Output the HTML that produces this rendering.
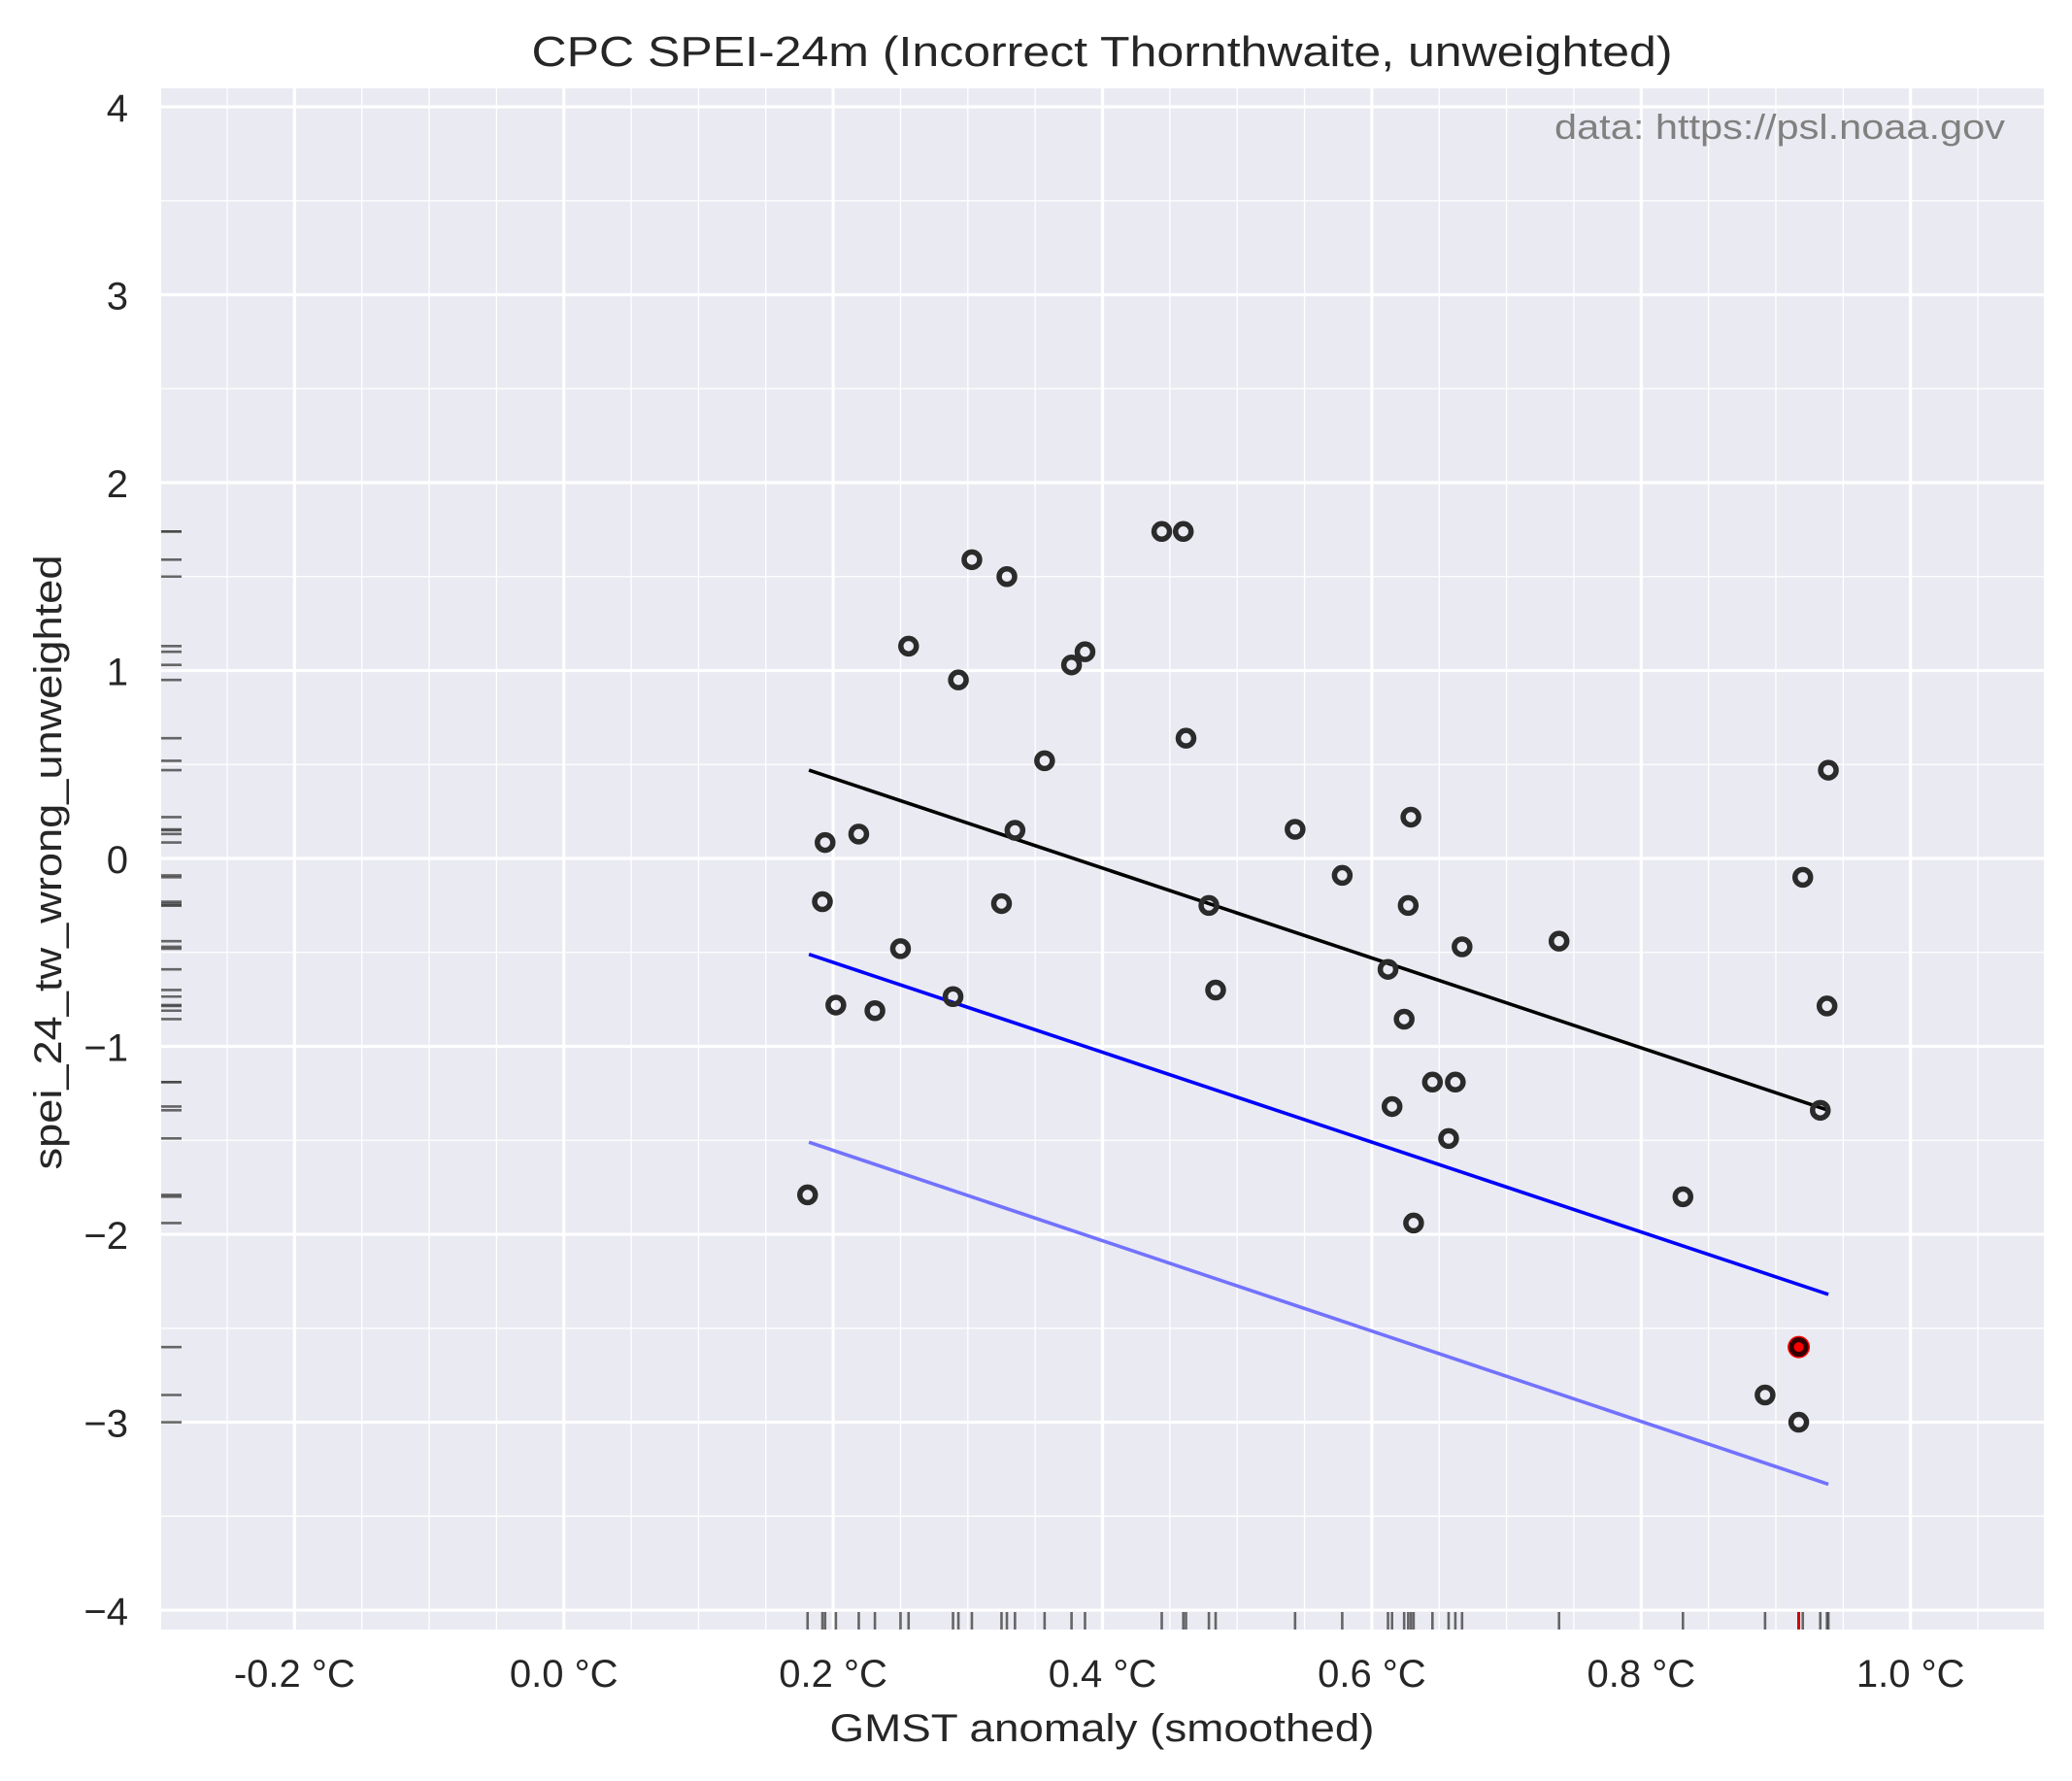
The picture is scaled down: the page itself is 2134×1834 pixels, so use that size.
<!DOCTYPE html>
<html><head><meta charset="utf-8"><style>
html,body{margin:0;padding:0;background:#fff;}
svg{display:block;font-family:"Liberation Sans",Arial,sans-serif;}
</style></head><body>
<svg id="chart" width="2134" height="1834" viewBox="0 0 2134 1834">
<rect x="0" y="0" width="2134" height="1834" fill="#fff"/>
<rect x="166" y="91" width="1939" height="1587" fill="#eaeaf2"/>
<g id="grid"></g>
<g id="rugs"></g>
<g id="lines"></g>
<g id="points"></g>
<g id="ticks"></g>
<text x="1135" y="68" font-size="44" text-anchor="middle" textLength="1175" lengthAdjust="spacingAndGlyphs" fill="#262626">CPC SPEI-24m (Incorrect Thornthwaite, unweighted)</text>
<text x="1135" y="1793" font-size="40" text-anchor="middle" textLength="561" lengthAdjust="spacingAndGlyphs" fill="#262626">GMST anomaly (smoothed)</text>
<text x="0" y="0" font-size="40" text-anchor="middle" textLength="633" lengthAdjust="spacingAndGlyphs" fill="#262626" transform="translate(63,888) rotate(-90)">spei_24_tw_wrong_unweighted</text>
<text x="2065" y="143" font-size="36" text-anchor="end" textLength="464" lengthAdjust="spacingAndGlyphs" fill="#808080">data: https://psl.noaa.gov</text>
</svg>
<script>
const xs = [0.181,0.194,0.192,0.202,0.219,0.231,0.250,0.256,0.289,0.293,0.303,0.325,0.329,0.335,0.357,0.377,0.387,0.444,0.460,0.462,0.479,0.484,0.543,0.578,0.612,0.615,0.624,0.627,0.629,0.631,0.645,0.657,0.662,0.667,0.739,0.831,0.892,0.917,0.920,0.933,0.938,0.939];
const ys = [-1.79,0.085,-0.23,-0.78,0.13,-0.81,-0.48,1.13,-0.735,0.95,1.59,-0.24,1.50,0.15,0.52,1.03,1.10,1.74,1.74,0.64,-0.25,-0.70,0.155,-0.09,-0.59,-1.32,-0.855,-0.25,0.22,-1.94,-1.19,-1.49,-1.19,-0.47,-0.44,-1.80,-2.855,-3.00,-0.10,-1.34,-0.785,0.47];
const highlightX = [0.917];
const highlightY = [-2.60];
const fitX = [0.182,0.939];
const fitCentral = [0.47,-1.34];
const fitShift1 = [-0.51,-2.32];
const fitShift2 = [-1.51,-3.33];
const xTicks = [-0.2,0.0,0.2,0.4,0.6,0.8,1.0];
const xTickLabels = ["-0.2 °C","0.0 °C","0.2 °C","0.4 °C","0.6 °C","0.8 °C","1.0 °C"];
const yTicks = [-4,-3,-2,-1,0,1,2,3,4];
const yTickLabels = ["\u22124","\u22123","\u22122","\u22121","0","1","2","3","4"];

const NS="http://www.w3.org/2000/svg";
const L=166,R=2105,T=91,B=1678;
const xmin=-0.299,xmax=1.099,ymin=-4.103,ymax=4.098;
function sx(v){return L+(v-xmin)/(xmax-xmin)*(R-L);}
function sy(v){return B-(v-ymin)/(ymax-ymin)*(B-T);}
function mk(tag,attrs,parent){const e=document.createElementNS(NS,tag);for(const k in attrs)e.setAttribute(k,attrs[k]);parent.appendChild(e);return e;}
const grid=document.getElementById('grid'),rugs=document.getElementById('rugs'),lines=document.getElementById('lines'),pts=document.getElementById('points'),ticks=document.getElementById('ticks');

for(let v=-0.25;v<=1.06;v+=0.05){
  const major=Math.abs(Math.round(v*5)-v*5)<1e-6;
  const e=mk('line',{x1:sx(v),x2:sx(v),y1:T,y2:B,stroke:'#fff','stroke-width':major?3.2:1.3},grid);
  
  
}
for(let v=-4;v<=4.01;v+=0.5){
  const major=Math.abs(v-Math.round(v))<1e-6;
  const e=mk('line',{x1:L,x2:R,y1:sy(v),y2:sy(v),stroke:'#fff','stroke-width':major?3.2:1.3},grid);
  
  
}
xs.forEach((x,i)=>{
  const e=mk('line',{x1:sx(x),x2:sx(x),y1:1660,y2:1678,stroke:'#444','stroke-opacity':0.8,'stroke-width':2.6},rugs);
  
  
  const f=mk('line',{x1:166,x2:187,y1:sy(ys[i]),y2:sy(ys[i]),stroke:'#444','stroke-opacity':0.8,'stroke-width':2.6},rugs);
  
  
});
highlightX.forEach((x,i)=>{
  const e=mk('line',{x1:sx(x),x2:sx(x),y1:1660,y2:1678,stroke:'#c00','stroke-width':3},rugs);
  
  
  const f=mk('line',{x1:166,x2:187,y1:sy(highlightY[i]),y2:sy(highlightY[i]),stroke:'#444','stroke-opacity':0.8,'stroke-width':2.6},rugs);
  
  
});
[[fitShift2,'#7272ff','fit-line-shifted-2'],[fitShift1,'#0000ff','fit-line-shifted-1'],[fitCentral,'#000','fit-line-central']].forEach(([ysArr,col,name])=>{
  const e=mk('line',{x1:sx(fitX[0]),y1:sy(ysArr[0]),x2:sx(fitX[1]),y2:sy(ysArr[1]),stroke:col,'stroke-width':3.6},lines);
  
  
});
xs.forEach((x,i)=>{
  const c=mk('circle',{cx:sx(x),cy:sy(ys[i]),r:8,fill:'none',stroke:'#2b2b2b','stroke-width':5.5},pts);
  
  
});
highlightX.forEach((x,i)=>{
  const c=mk('circle',{cx:sx(x),cy:sy(highlightY[i]),r:11.5,fill:'#ff0000'},pts);
  
  
  const d=mk('circle',{cx:sx(x),cy:sy(highlightY[i]),r:7.5,fill:'#ff0000',stroke:'#300','stroke-width':5},pts);
  
  
});
xTicks.forEach((v,i)=>{
  const t=mk('text',{x:sx(v),y:1737,'font-size':40,'text-anchor':'middle',fill:'#262626'},ticks);
  t.textContent=xTickLabels[i];
  
  
});
yTicks.forEach((v,i)=>{
  const t=mk('text',{x:132,y:sy(v)+15,'font-size':40,'text-anchor':'end',fill:'#262626'},ticks);
  t.textContent=yTickLabels[i];
  
  
});
</script>
</body></html>
